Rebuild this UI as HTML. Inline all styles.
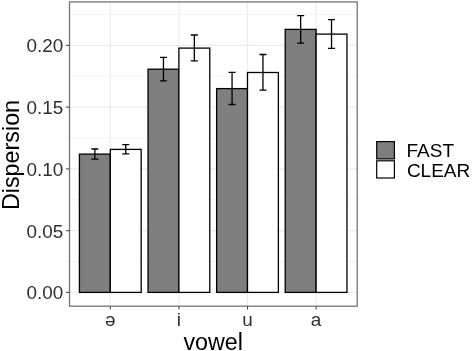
<!DOCTYPE html>
<html lang="en"><head><meta charset="utf-8"><title>Dispersion by vowel</title>
<style>html,body{margin:0;padding:0;background:#fff}svg{display:block}text{font-family:"Liberation Sans",Arial,Helvetica,sans-serif}</style></head><body>
<svg width="472" height="351" viewBox="0 0 472 351">
<rect width="472" height="351" fill="#fff"/>
<g stroke="#ebebeb" fill="none">
<line x1="69.5" x2="357.2" y1="261.52" y2="261.52" stroke-width="0.6"/>
<line x1="69.5" x2="357.2" y1="199.77" y2="199.77" stroke-width="0.6"/>
<line x1="69.5" x2="357.2" y1="138.02" y2="138.02" stroke-width="0.6"/>
<line x1="69.5" x2="357.2" y1="76.27" y2="76.27" stroke-width="0.6"/>
<line x1="69.5" x2="357.2" y1="14.52" y2="14.52" stroke-width="0.6"/>
<line x1="69.5" x2="357.2" y1="292.40" y2="292.40" stroke-width="1.1"/>
<line x1="69.5" x2="357.2" y1="230.65" y2="230.65" stroke-width="1.1"/>
<line x1="69.5" x2="357.2" y1="168.90" y2="168.90" stroke-width="1.1"/>
<line x1="69.5" x2="357.2" y1="107.15" y2="107.15" stroke-width="1.1"/>
<line x1="69.5" x2="357.2" y1="45.40" y2="45.40" stroke-width="1.1"/>
<line x1="110.30" x2="110.30" y1="1.9" y2="306.2" stroke-width="1.1"/>
<line x1="178.90" x2="178.90" y1="1.9" y2="306.2" stroke-width="1.1"/>
<line x1="247.50" x2="247.50" y1="1.9" y2="306.2" stroke-width="1.1"/>
<line x1="316.10" x2="316.10" y1="1.9" y2="306.2" stroke-width="1.1"/>
</g>
<g stroke="#000" stroke-width="1.3" stroke-linejoin="miter">
<rect x="79.43" y="154.1" width="30.87" height="138.30" fill="#7f7f7f"/>
<rect x="110.30" y="149.4" width="30.87" height="143.00" fill="#fff"/>
<rect x="148.03" y="69.2" width="30.87" height="223.20" fill="#7f7f7f"/>
<rect x="178.90" y="48.1" width="30.87" height="244.30" fill="#fff"/>
<rect x="216.63" y="88.6" width="30.87" height="203.80" fill="#7f7f7f"/>
<rect x="247.50" y="72.5" width="30.87" height="219.90" fill="#fff"/>
<rect x="285.23" y="29.4" width="30.87" height="263.00" fill="#7f7f7f"/>
<rect x="316.10" y="34.1" width="30.87" height="258.30" fill="#fff"/>
</g>
<g stroke="#000" stroke-width="1.3" fill="none">
<path d="M91.36 149.0H98.36M94.86 149.0V159.1M91.36 159.1H98.36"/>
<path d="M122.23 144.7H129.24M125.73 144.7V153.9M122.23 153.9H129.24"/>
<path d="M159.96 57.3H166.96M163.46 57.3V80.8M159.96 80.8H166.96"/>
<path d="M190.83 35.0H197.83M194.33 35.0V60.9M190.83 60.9H197.83"/>
<path d="M228.56 72.3H235.56M232.06 72.3V104.5M228.56 104.5H235.56"/>
<path d="M259.44 54.5H266.44M262.94 54.5V90.2M259.44 90.2H266.44"/>
<path d="M297.16 15.6H304.16M300.66 15.6V43.2M297.16 43.2H304.16"/>
<path d="M328.03 19.6H335.03M331.53 19.6V48.3M328.03 48.3H335.03"/>
</g>
<rect x="69.5" y="1.9" width="287.70" height="304.30" fill="none" stroke="#747474" stroke-width="1.3"/>
<g stroke="#4a4a4a" stroke-width="1.1">
<line x1="66" x2="69.5" y1="292.40" y2="292.40"/>
<line x1="66" x2="69.5" y1="230.65" y2="230.65"/>
<line x1="66" x2="69.5" y1="168.90" y2="168.90"/>
<line x1="66" x2="69.5" y1="107.15" y2="107.15"/>
<line x1="66" x2="69.5" y1="45.40" y2="45.40"/>
<line x1="110.30" x2="110.30" y1="306.2" y2="309.6"/>
<line x1="178.90" x2="178.90" y1="306.2" y2="309.6"/>
<line x1="247.50" x2="247.50" y1="306.2" y2="309.6"/>
<line x1="316.10" x2="316.10" y1="306.2" y2="309.6"/>
</g>
<g fill="#303030" font-size="18.9" text-anchor="end">
<text x="63.3" y="299.40">0.00</text>
<text x="63.3" y="237.65">0.05</text>
<text x="63.3" y="175.90">0.10</text>
<text x="63.3" y="114.15">0.15</text>
<text x="63.3" y="52.40">0.20</text>
</g>
<g fill="#303030" font-size="18.9" text-anchor="middle">
<text x="110.30" y="326.2">ə</text>
<text x="178.90" y="326.2">i</text>
<text x="247.50" y="326.2">u</text>
<text x="316.10" y="326.2">a</text>
</g>
<text x="213.2" y="349.8" font-size="23.3" text-anchor="middle" fill="#000">vowel</text>
<text transform="translate(19.2,155.0) rotate(-90) scale(1.015,1)" font-size="23" text-anchor="middle" fill="#000">Dispersion</text>
<g stroke="#000" stroke-width="1.2">
<rect x="376.7" y="141.6" width="17.7" height="17.3" fill="#7f7f7f"/>
<rect x="376.7" y="160.8" width="17.7" height="17.2" fill="#fff"/>
</g>
<g font-size="19" fill="#000"><text x="406.5" y="157">FAST</text><text x="406.9" y="176.8">CLEAR</text></g>
</svg></body></html>
